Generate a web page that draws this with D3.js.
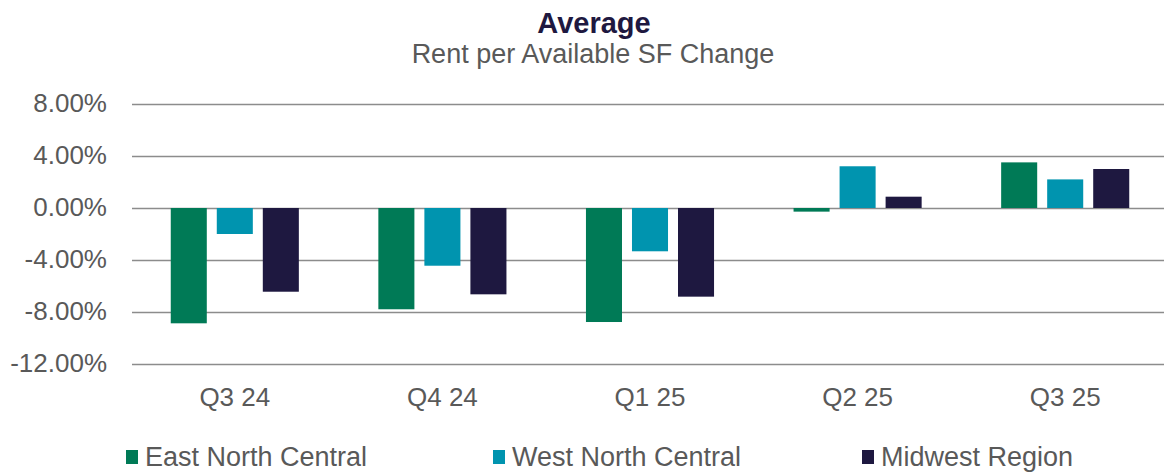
<!DOCTYPE html>
<html lang="en">
  <head>
    <meta charset="utf-8">
    <title>Average Rent per Available SF Change</title>
    <script src="https://cdn.jsdelivr.net/npm/d3@7/dist/d3.min.js"></script>
    <style>
      html, body { margin: 0; padding: 0; background: #fff; }
      #chart text { font-family: "Liberation Sans", Arial, sans-serif; }
    </style>
  </head>
  <body>
    <div id="chart"></div>
    <script type="text/javascript">
    (function(d3) {
      'use strict';

      var categories = ['Q3 24', 'Q4 24', 'Q1 25', 'Q2 25', 'Q3 25'];
      var seriesNames = ['East North Central', 'West North Central', 'Midwest Region'];
      var eastNorthCentral = [-8.87, -7.79, -8.77, -0.28, 3.51];
      var westNorthCentral = [-2.00, -4.44, -3.33, 3.21, 2.20];
      var midwestRegion = [-6.44, -6.64, -6.82, 0.87, 3.00];
      var yTicks = [-12, -8, -4, 0, 4, 8];

      var seriesValues = [eastNorthCentral, westNorthCentral, midwestRegion];
      var colors = ['#007a56', '#0094af', '#1e1840'];

      var width = 1164;
      var height = 472;
      var textColor = '#595959';

      var svg = d3.select('#chart')
        .append('svg')
        .attr('width', width)
        .attr('height', height);

      var x0 = d3.scaleBand()
        .domain(categories)
        .range([131, 1169])
        .paddingInner(0.383)
        .paddingOuter(0.1915);

      var x1 = d3.scaleBand()
        .domain(seriesNames)
        .range([0, x0.bandwidth()])
        .paddingInner(0.217);

      var y = d3.scaleLinear()
        .domain([-12, 8])
        .range([364, 104]);

      // gridlines
      svg.append('g')
        .selectAll('line')
        .data(yTicks)
        .enter()
        .append('line')
        .attr('x1', 132)
        .attr('x2', width)
        .attr('y1', function(d) { return y(d) + 0.5; })
        .attr('y2', function(d) { return y(d) + 0.5; })
        .attr('stroke', '#8c8c8c')
        .attr('stroke-width', 1.5);

      // y labels
      svg.append('g')
        .selectAll('text')
        .data(yTicks)
        .enter()
        .append('text')
        .attr('x', 107)
        .attr('y', function(d) { return y(d) + 7.5; })
        .attr('text-anchor', 'end')
        .attr('font-size', 26)
        .attr('fill', textColor)
        .text(function(d) { return d.toFixed(2) + '%'; });

      // bars
      var rows = categories.map(function(c, i) {
        return seriesNames.map(function(s, j) {
          return { cat: c, name: s, value: seriesValues[j][i], color: colors[j] };
        });
      });

      svg.append('g')
        .selectAll('g')
        .data(rows)
        .enter()
        .append('g')
        .attr('transform', function(d) { return 'translate(' + x0(d[0].cat) + ',0)'; })
        .selectAll('rect')
        .data(function(d) { return d; })
        .enter()
        .append('rect')
        .attr('x', function(d) { return x1(d.name); })
        .attr('width', x1.bandwidth())
        .attr('y', function(d) { return Math.min(y(d.value), y(0)); })
        .attr('height', function(d) { return Math.abs(y(d.value) - y(0)); })
        .attr('fill', function(d) { return d.color; });

      // x labels
      svg.append('g')
        .selectAll('text')
        .data(categories)
        .enter()
        .append('text')
        .attr('x', function(d) { return x0(d) + x0.bandwidth() / 2; })
        .attr('y', 406)
        .attr('text-anchor', 'middle')
        .attr('font-size', 26)
        .attr('fill', textColor)
        .text(function(d) { return d; });

      // title
      svg.append('text')
        .attr('x', 594)
        .attr('y', 33)
        .attr('text-anchor', 'middle')
        .attr('font-size', 29)
        .attr('font-weight', 'bold')
        .attr('fill', '#1e1840')
        .text('Average');

      svg.append('text')
        .attr('x', 593)
        .attr('y', 63)
        .attr('text-anchor', 'middle')
        .attr('font-size', 27)
        .attr('fill', textColor)
        .text('Rent per Available SF Change');

      // legend
      var legendX = [126, 493, 862];
      var legend = svg.append('g')
        .selectAll('g')
        .data(seriesNames)
        .enter()
        .append('g')
        .attr('transform', function(d, i) { return 'translate(' + legendX[i] + ',0)'; });

      legend.append('rect')
        .attr('x', 0)
        .attr('y', 450)
        .attr('width', 12)
        .attr('height', 14)
        .attr('fill', function(d, i) { return colors[i]; });

      legend.append('text')
        .attr('x', 19)
        .attr('y', 466)
        .attr('font-size', 27)
        .attr('fill', textColor)
        .text(function(d) { return d; });

    })(window.d3);
    </script>
  </body>
</html>
